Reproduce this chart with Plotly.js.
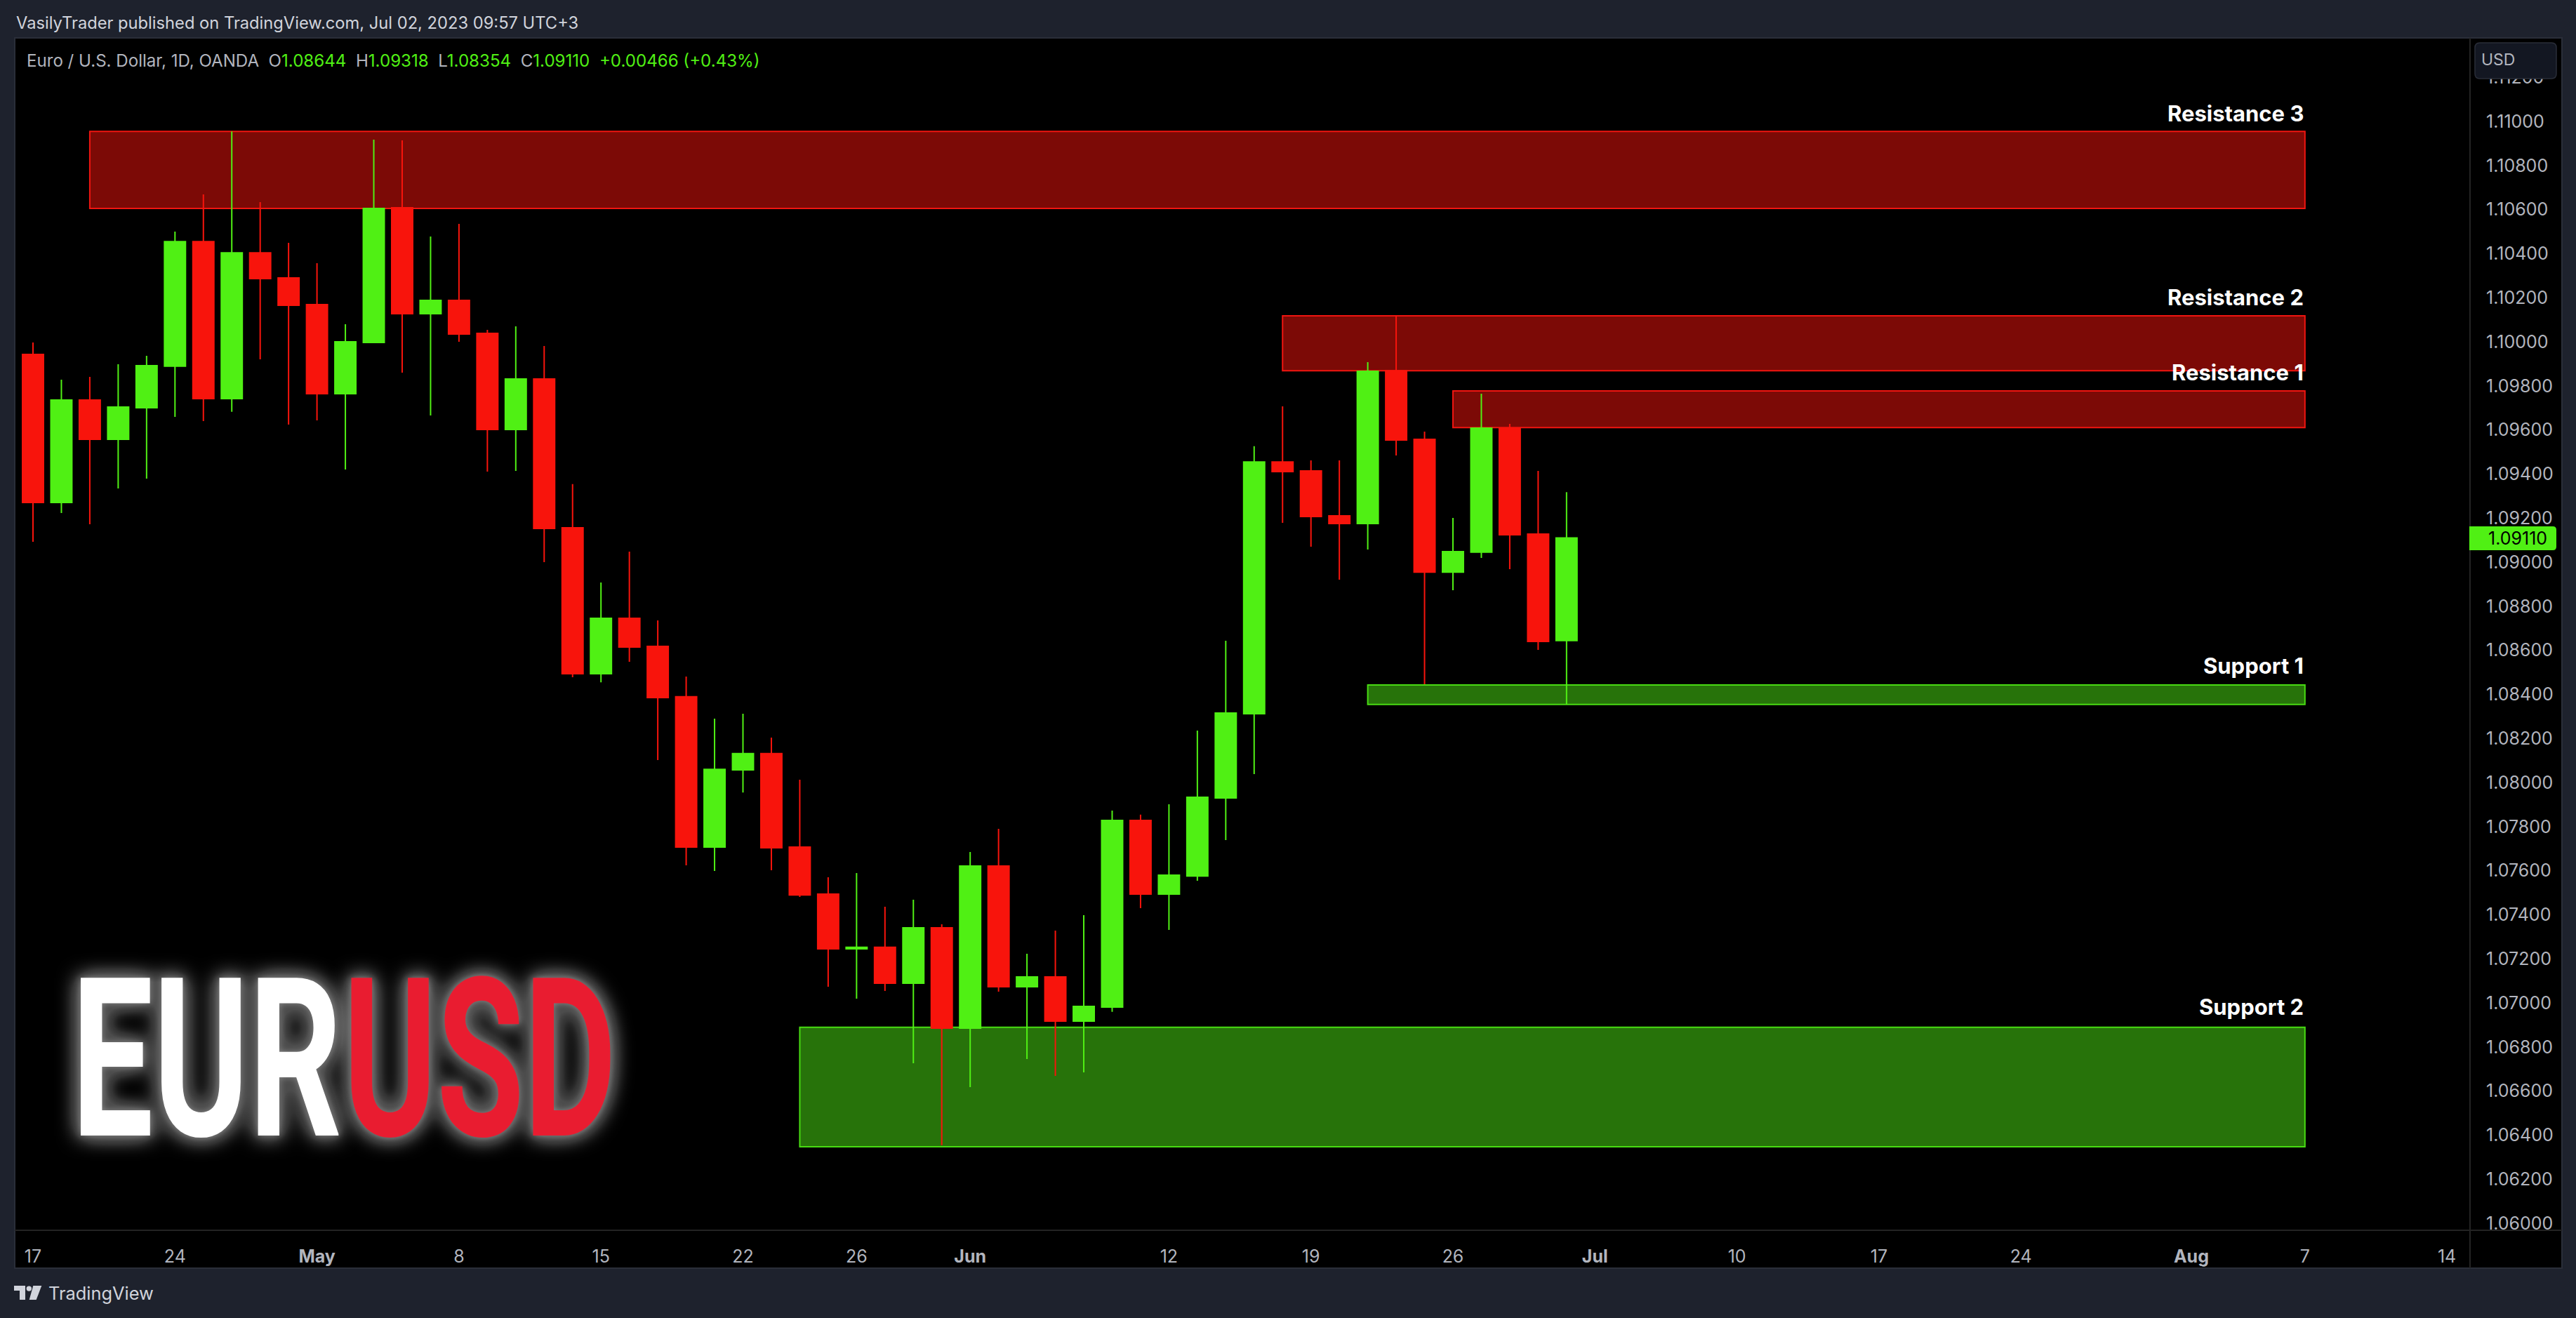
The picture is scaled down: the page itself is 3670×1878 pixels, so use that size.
<!DOCTYPE html>
<html><head><meta charset="utf-8">
<script src="https://cdn.plot.ly/plotly-3.0.1.min.js"></script>
<style>html,body{margin:0;padding:0;background:#1E222D}</style></head>
<body><div id="chart" style="width:3670px;height:1878px"></div>
<script>
const barIndex = Array.from({length:55},(_,i)=>i);
const opens = [1.09943,1.09271,1.09736,1.09557,1.09701,1.09889,1.10455,1.09742,1.10404,1.10290,1.10169,1.09764,1.09997,1.10608,1.10127,1.10188,1.10038,1.09602,1.09831,1.09156,1.08494,1.08745,1.08618,1.08389,1.07707,1.08057,1.08131,1.07707,1.07494,1.07245,1.07252,1.07089,1.07341,1.06885,1.07621,1.07073,1.07118,1.06917,1.06981,1.07828,1.07494,1.07576,1.07930,1.08312,1.09455,1.09414,1.09210,1.09175,1.09869,1.09557,1.08955,1.09045,1.09608,1.09127,1.08644];
const highs = [1.09997,1.09828,1.09841,1.09898,1.09936,1.10500,1.10669,1.10955,1.10634,1.10449,1.10357,1.10080,1.10917,1.10914,1.10478,1.10535,1.10054,1.10070,1.09981,1.09354,1.08908,1.09048,1.08736,1.08481,1.08290,1.08312,1.08204,1.08013,1.07570,1.07589,1.07436,1.07468,1.07357,1.07685,1.07790,1.07223,1.07328,1.07398,1.07873,1.07854,1.07901,1.08236,1.08643,1.09526,1.09707,1.09462,1.09462,1.09908,1.10121,1.09592,1.09201,1.09764,1.09627,1.09414,1.09318];
const lows = [1.09092,1.09223,1.09172,1.09334,1.09379,1.09659,1.09640,1.09682,1.09920,1.09624,1.09643,1.09420,1.09997,1.09860,1.09666,1.10000,1.09411,1.09414,1.09000,1.08478,1.08455,1.08548,1.08102,1.07624,1.07599,1.07955,1.07602,1.07481,1.07073,1.07019,1.07054,1.06726,1.06354,1.06618,1.07051,1.06745,1.06669,1.06685,1.06959,1.07430,1.07331,1.07554,1.07739,1.08038,1.09178,1.09070,1.08920,1.09057,1.09484,1.08446,1.08873,1.09019,1.08968,1.08602,1.08354];
const closes = [1.09271,1.09736,1.09557,1.09704,1.09892,1.10455,1.09742,1.10404,1.10287,1.10166,1.09764,1.10000,1.10605,1.10127,1.10188,1.10035,1.09602,1.09831,1.09153,1.08494,1.08745,1.08615,1.08385,1.07707,1.08060,1.08131,1.07704,1.07490,1.07245,1.07252,1.07089,1.07341,1.06885,1.07621,1.07073,1.07118,1.06917,1.06984,1.07828,1.07494,1.07580,1.07933,1.08315,1.09455,1.09411,1.09207,1.09175,1.09866,1.09554,1.08955,1.09048,1.09608,1.09124,1.08640,1.09110];

const tickIndex = [0,5,10,15,20,25,29,33,40,45,50,55,60,65,70,76,80,85];
const tickLabels = ['17','24','<b>May</b>','8','15','22','26','<b>Jun</b>','12','19','26','<b>Jul</b>','10','17','24','<b>Aug</b>','7','14'];
const priceTicks = [1.060,1.062,1.064,1.066,1.068,1.070,1.072,1.074,1.076,1.078,1.080,1.082,1.084,1.086,1.088,1.090,1.092,1.094,1.096,1.098,1.100,1.102,1.104,1.106,1.108,1.110,1.112];

const zoneNames = ['Resistance 3','Resistance 2','Resistance 1','Support 1','Support 2'];
const zoneStart = [2,44,50,47,27];
const zoneEnd = [80,80,80,80,80];
const zoneTop = [1.10955,1.10118,1.09777,1.08443,1.06889];
const zoneBottom = [1.10605,1.09869,1.09611,1.08354,1.06347];
const zoneLabelPrice = [1.11038,1.10201,1.09860,1.08529,1.06981];
const zoneIsResistance = [true,true,true,false,false];

const lastPrice = 1.09110;

const UP='#50F014', DOWN='#F8140C';
const W=3670,H=1878,L=21,R=3519,T=54,B=1753;
const px=x=>(x-L)/(R-L), py=y=>1-(y-T)/(B-T);
const rect=(x0,y0,x1,y1,fill,line,lw,layer)=>({type:'rect',xref:'paper',yref:'paper',x0:px(x0),x1:px(x1),y0:py(y0),y1:py(y1),fillcolor:fill,line:{color:line,width:lw||0},layer:layer||'below'});
const hline=(x0,x1,y,c)=>({type:'line',xref:'paper',yref:'paper',x0:px(x0),x1:px(x1),y0:py(y),y1:py(y),line:{color:c,width:2},layer:'below'});
const vline=(x,y0,y1,c)=>({type:'line',xref:'paper',yref:'paper',x0:px(x),x1:px(x),y0:py(y0),y1:py(y1),line:{color:c,width:2},layer:'below'});
const P=(x,y)=>px(x)+' '+py(y);
function rrect(x0,y0,x1,y1,rl,rr){return 'M'+P(x0+rl,y0)+' L'+P(x1-rr,y0)+' Q'+P(x1,y0)+' '+P(x1,y0+rr)+' L'+P(x1,y1-rr)+' Q'+P(x1,y1)+' '+P(x1-rr,y1)+' L'+P(x0+rl,y1)+' Q'+P(x0,y1)+' '+P(x0,y1-rl)+' L'+P(x0,y0+rl)+' Q'+P(x0,y0)+' '+P(x0+rl,y0)+' Z';}
const pathShape=(d,fill,line,lw)=>({type:'path',xref:'paper',yref:'paper',path:d,fillcolor:fill,line:{color:line||fill,width:lw||0},layer:'above'});

const shapes=[
  rect(21,54,3650,1807,'#000000','#2A2E39',2),
  vline(3519,54,1807,'#232323'),
  hline(21,3650,1753,'#232323')
];
zoneNames.forEach((n,i)=>{
  const res=zoneIsResistance[i];
  shapes.push({type:'rect',xref:'x',yref:'y',x0:zoneStart[i],x1:zoneEnd[i],y0:zoneBottom[i],y1:zoneTop[i],
    fillcolor:res?'#7C0A06':'#27730A',line:{color:res?'#F01510':'#48DC12',width:2},layer:'below'});
});
shapes.push(pathShape(rrect(3526,61,3642,112,7,7),'#131722','#2A2E39',1.5));
shapes.push(pathShape(rrect(3518,750,3642,784,0,5),UP));
shapes.push(pathShape('M'+P(20,1832)+' L'+P(36,1832)+' L'+P(36,1852)+' L'+P(28,1852)+' L'+P(28,1839)+' L'+P(20,1839)+' Z','#D1D4DC'));
shapes.push({type:'circle',xref:'paper',yref:'paper',x0:px(37.6),x1:px(45),y0:py(1832.4),y1:py(1839.8),fillcolor:'#D1D4DC',line:{width:0},layer:'above'});
shapes.push(pathShape('M'+P(47.3,1832)+' L'+P(59.3,1832)+' L'+P(51.7,1852)+' L'+P(41.7,1852)+' Z','#D1D4DC'));

const GREY='#B2B5BE', FONT='Inter, "Liberation Sans", sans-serif';
const note=(text,x,y,size,color,anchor,extra)=>Object.assign({text:text,xref:'paper',yref:'paper',x:px(x),y:py(y),xanchor:anchor||'left',yanchor:'middle',showarrow:false,align:'left',font:{family:FONT,size:size,color:color}},extra||{});
const g=s=>'<span style="color:'+UP+'">'+s+'</span>';
const nb='\u00A0';
const annotations=[
  note('VasilyTrader published on TradingView.com, Jul 02, 2023 09:57 UTC+3',21,32,23.7,'#D1D4DC'),
  note('Euro / U.S. Dollar, 1D, OANDA'+nb+nb+'O'+g('1.08644')+nb+nb+'H'+g('1.09318')+nb+nb+'L'+g('1.08354')+nb+nb+'C'+g('1.09110')+nb+nb+g('+0.00466 (+0.43%)'),36,86,24.1,GREY),
  note('USD',3533,85,23,GREY),
  note('TradingView',67,1842,25.4,'#D1D4DC'),
  note(lastPrice.toFixed(5),3631,767,25,'#000000','right'),
  note('EUR',298.5,1510,316,'#FFFFFF','center',{font:{family:'Roboto, sans-serif',size:316,color:'#FFFFFF',weight:700}}),
  note('USD',685,1510,316,'#E91C30','center',{font:{family:'Roboto, sans-serif',size:316,color:'#E91C30',weight:700}})
];
zoneNames.forEach((n,i)=>{
  annotations.push({text:'<b>'+n+'</b>',xref:'x',yref:'y',x:zoneEnd[i],y:zoneLabelPrice[i],xanchor:'right',yanchor:'middle',showarrow:false,font:{family:FONT,size:31,color:'#FFFFFF'}});
});

const trace={type:'candlestick',x:barIndex,open:opens,high:highs,low:lows,close:closes,whiskerwidth:0,
  increasing:{line:{color:UP,width:2},fillcolor:UP},decreasing:{line:{color:DOWN,width:2},fillcolor:DOWN},hoverinfo:'skip',showlegend:false};

const y2p=y=>1.11-(y-173)/31400, x2i=x=>(x-47)/40.46;
const layout={width:W,height:H,margin:{l:L,r:W-R,t:T,b:H-B,pad:0},paper_bgcolor:'#1E222D',plot_bgcolor:'#000000',
  showlegend:false,boxgap:0.26,boxgroupgap:0,shapes:shapes,annotations:annotations,
  xaxis:{type:'linear',range:[x2i(L),x2i(R)],tickmode:'array',tickvals:tickIndex,ticktext:tickLabels,showgrid:false,zeroline:false,showline:false,
    ticks:'outside',ticklen:15,tickcolor:'rgba(0,0,0,0)',tickfont:{family:FONT,size:25,color:GREY},rangeslider:{visible:false},fixedrange:true},
  yaxis:{type:'linear',side:'right',range:[y2p(B),y2p(T)],tickmode:'array',tickvals:priceTicks,ticktext:priceTicks.map(v=>v.toFixed(5)),showgrid:false,zeroline:false,showline:false,
    ticks:'outside',ticklen:17,tickcolor:'rgba(0,0,0,0)',tickfont:{family:FONT,size:25,color:GREY},fixedrange:true}
};
const logoSpan={EUR:[102,487],USD:[489,878]};
Plotly.newPlot('chart',[trace],layout,{displayModeBar:false,staticPlot:true}).then(gd=>{
  const svg=gd.querySelector('.main-svg');
  const ns='http://www.w3.org/2000/svg';
  const defs=svg.querySelector('defs')||svg.insertBefore(document.createElementNS(ns,'defs'),svg.firstChild);
  const holder=document.createElementNS(ns,'g');
  holder.innerHTML='<filter id="logoGlow" x="-30%" y="-30%" width="160%" height="160%" color-interpolation-filters="sRGB">'+
    '<feGaussianBlur in="SourceAlpha" stdDeviation="24 15" result="wide"/>'+
    '<feComponentTransfer in="wide" result="wideA"><feFuncA type="table" tableValues="0 0.2 0.3 0.3 0.3 0.3"/></feComponentTransfer>'+
    '<feGaussianBlur in="SourceAlpha" stdDeviation="8 5" result="nar"/>'+
    '<feComponentTransfer in="nar" result="narA"><feFuncA type="linear" slope="0.35"/></feComponentTransfer>'+
    '<feFlood flood-color="#ffffff" result="w"/>'+
    '<feComposite in="w" in2="wideA" operator="in" result="g1"/>'+
    '<feComposite in="w" in2="narA" operator="in" result="g2"/>'+
    '<feMerge><feMergeNode in="g1"/><feMergeNode in="g2"/><feMergeNode in="SourceGraphic"/></feMerge></filter>';
  defs.appendChild(holder.firstChild);
  gd.querySelectorAll('.annotation-text').forEach(t=>{
    if(t.getAttribute('style')&&/316px/.test(t.getAttribute('style'))){
      const span=logoSpan[t.textContent];
      const box=t.getBBox(), client=t.getBoundingClientRect();
      const sx=(span[1]-span[0])/client.width;
      const offset=client.left-box.x;
      const tx=span[0]-offset-sx*box.x;
      t.setAttribute('transform','translate('+tx+',0) scale('+sx+',1)');
      t.setAttribute('filter','url(#logoGlow)');
    }
  });
});
</script></body></html>
